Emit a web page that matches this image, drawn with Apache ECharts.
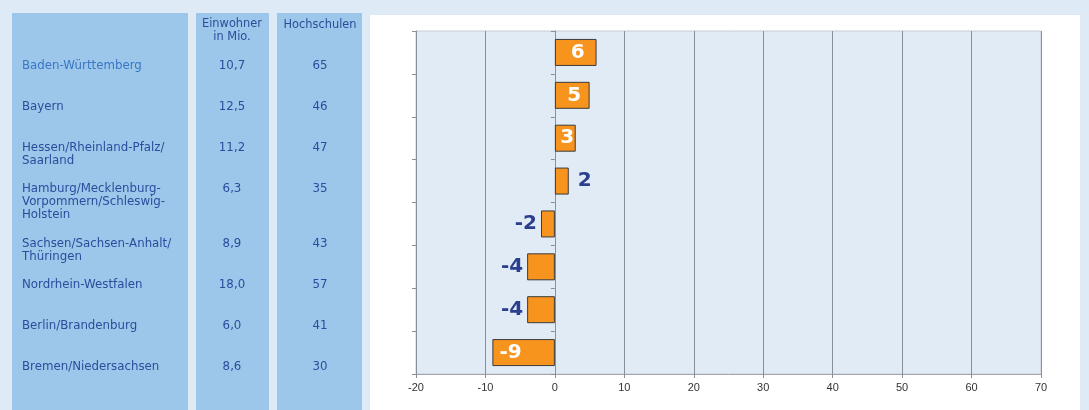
<!DOCTYPE html>
<html>
<head>
<meta charset="utf-8">
<script src="https://cdn.jsdelivr.net/npm/echarts@6/dist/echarts.min.js"></script>
<style>
  html, body { margin: 0; padding: 0; background: #deeaf6; }
  #chart { width: 1089px; height: 410px; }
</style>
</head>
<body>
<div id="chart"></div>
<script>
  // Bundeslaender (table rows + bar categories)
  const regions = [
    'Baden-Württemberg',
    'Bayern',
    'Hessen/Rheinland-Pfalz/\nSaarland',
    'Hamburg/Mecklenburg-\nVorpommern/Schleswig-\nHolstein',
    'Sachsen/Sachsen-Anhalt/\nThüringen',
    'Nordrhein-Westfalen',
    'Berlin/Brandenburg',
    'Bremen/Niedersachsen'
  ]
  const einwohner = ['10,7', '12,5', '11,2', '6,3', '8,9', '18,0', '6,0', '8,6']
  const hochschulen = ['65', '46', '47', '35', '43', '57', '41', '30']
  const werte = [6, 5, 3, 2, -2, -4, -4, -9]
  const headers = ['Einwohner\nin Mio.', 'Hochschulen']

  // where the value label goes (inside the bar or next to it)
  const labelInside = [true, true, true, false, false, false, false, true]

  const textBlue = '#2d4c9c'
  const labelBlue = '#2b3f8f'
  const tableFont = '11.8px "DejaVu Sans"'
  const headFont = '11.4px "DejaVu Sans"'

  let myChart = echarts.init(document.getElementById('chart'))

  // table drawn as graphic elements
  let graphic = [
    { type: 'rect', z: -5, shape: { x: 370, y: 15, width: 710, height: 400 }, style: { fill: '#ffffff' } },
    { type: 'rect', z: -5, shape: { x: 12, y: 13, width: 176, height: 400 }, style: { fill: '#9cc7ea' } },
    { type: 'rect', z: -5, shape: { x: 196, y: 13, width: 73, height: 400 }, style: { fill: '#9cc7ea' } },
    { type: 'rect', z: -5, shape: { x: 277, y: 13, width: 85, height: 400 }, style: { fill: '#9cc7ea' } },
    {
      type: 'text', x: 232, y: 18,
      style: { text: headers[0], fill: textBlue, font: headFont, align: 'center', lineHeight: 13 }
    },
    {
      type: 'text', x: 320, y: 19,
      style: { text: headers[1], fill: textBlue, font: headFont, align: 'center', lineHeight: 13 }
    }
  ]
  let rowY = 66
  regions.forEach(function (name, i) {
    let lines = name.split('\n').length
    graphic.push({
      type: 'text', x: 22, y: rowY - 7,
      style: { text: name, fill: i === 0 ? '#3a76c5' : textBlue, font: tableFont, lineHeight: 13 }
    })
    graphic.push({
      type: 'text', x: 232, y: rowY - 7,
      style: { text: einwohner[i], fill: textBlue, font: tableFont, align: 'center', lineHeight: 13 }
    })
    graphic.push({
      type: 'text', x: 320, y: rowY - 7,
      style: { text: hochschulen[i], fill: textBlue, font: tableFont, align: 'center', lineHeight: 13 }
    })
    rowY += 41 + Math.max(0, lines - 2) * 14
  })

  let barData = werte.map(function (v, i) {
    let label
    if (labelInside[i]) {
      label = v >= 0
        ? { position: 'inside', color: '#ffffff', offset: [2, 0] }
        : { position: 'insideLeft', distance: 7, color: '#ffffff' }
    } else {
      label = v >= 0
        ? { position: 'right', distance: 9, color: labelBlue }
        : { position: 'left', distance: 4, color: labelBlue }
    }
    return { value: v, label: label }
  })

  let axisGray = '#8a8f98'
  let option = {
    animation: false,
    backgroundColor: '#deeaf6',
    graphic: graphic,
    grid: {
      left: 416,
      right: 48,
      top: 31,
      bottom: 36,
      show: true,
      backgroundColor: '#e1ebf6',
      borderColor: '#c8ccd2',
      borderWidth: 1
    },
    xAxis: {
      type: 'value',
      min: -20,
      max: 70,
      interval: 10,
      axisLine: { show: true, lineStyle: { color: '#a3a7ad' } },
      axisTick: { show: true, length: 4, lineStyle: { color: axisGray } },
      splitLine: { show: true, lineStyle: { color: axisGray, width: 1 } },
      axisLabel: { color: '#333333', fontSize: 11, fontFamily: 'Liberation Sans', margin: 8 }
    },
    yAxis: [
      {
        type: 'category',
        data: regions,
        inverse: true,
        axisLine: { show: true, onZero: false, lineStyle: { color: axisGray } },
        axisTick: { show: true, length: 4, lineStyle: { color: axisGray } },
        axisLabel: { show: false },
        splitLine: { show: false }
      },
      {
        type: 'category',
        data: regions,
        inverse: true,
        position: 'left',
        axisLine: { show: true, onZero: true, lineStyle: { color: axisGray } },
        axisTick: { show: true, length: 4, lineStyle: { color: axisGray } },
        axisLabel: { show: false },
        splitLine: { show: false }
      }
    ],
    series: [
      {
        type: 'bar',
        yAxisIndex: 0,
        data: barData,
        barWidth: 27,
        itemStyle: {
          color: '#f7941d',
          borderColor: '#3b3b3b',
          borderWidth: 1
        },
        label: {
          show: true,
          fontFamily: 'DejaVu Sans',
          fontWeight: 'bold',
          fontSize: 20
        }
      }
    ]
  }
  myChart.setOption(option)
</script>
</body>
</html>
